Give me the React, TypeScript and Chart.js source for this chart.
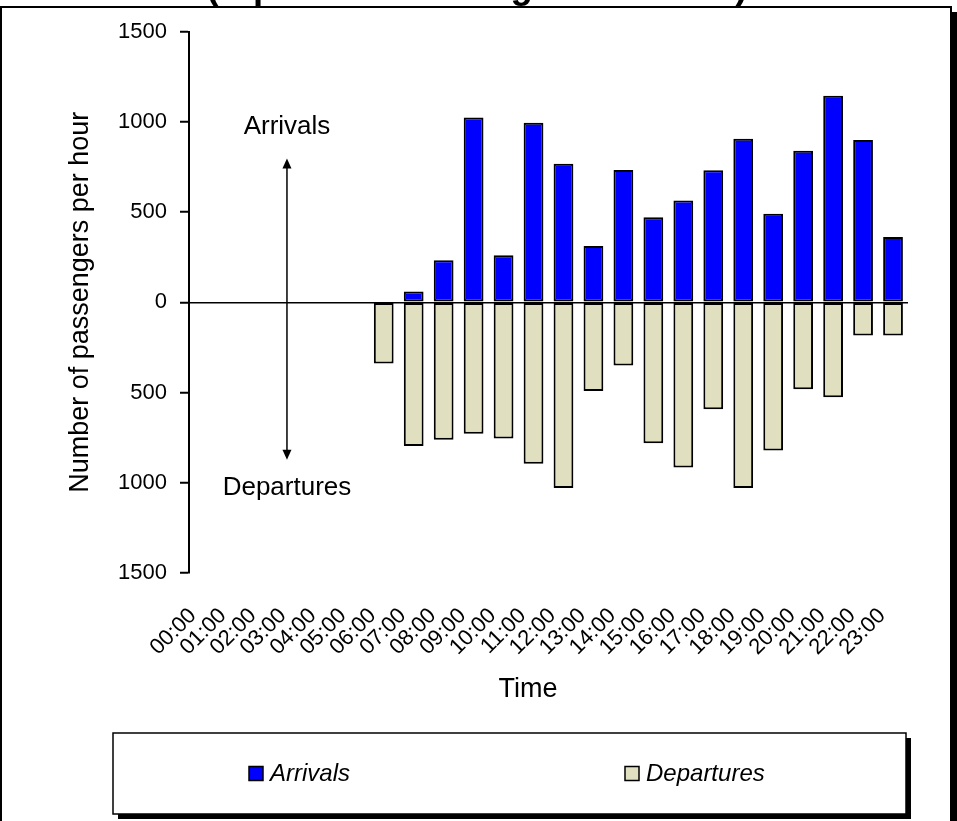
import React, { useEffect, useRef } from 'react';
import { Chart, registerables } from 'chart.js';

Chart.register(...registerables);

const FONT = '"Liberation Sans", Arial, Helvetica, sans-serif';

const TITLE = '(representative flight schedule)';
const HOURS = [
  '00:00', '01:00', '02:00', '03:00', '04:00', '05:00', '06:00', '07:00',
  '08:00', '09:00', '10:00', '11:00', '12:00', '13:00', '14:00', '15:00',
  '16:00', '17:00', '18:00', '19:00', '20:00', '21:00', '22:00', '23:00',
];
const ARRIVALS: (number | null)[] = [
  null, null, null, null, null, null, null, 59,
  232, 1024, 260, 994, 768, 311, 733, 471,
  564, 731, 906, 490, 840, 1144, 899, 361,
];
const DEPARTURES: (number | null)[] = [
  null, null, null, null, null, null, -339, -796,
  -762, -729, -755, -895, -1029, -492, -350, -781,
  -915, -593, -1029, -822, -482, -527, -184, -184,
];
const Y_TICKS = [-1500, -1000, -500, 0, 500, 1000, 1500];
const Y_TITLE = 'Number of passengers per hour';
const X_TITLE = 'Time';
const SERIES_NAMES = ['Arrivals', 'Departures'];
const SERIES_COLORS = ['#0000FF', '#E0E0C0'];

// annotation anchor (in data units: category index / passengers)
const ANNOT_X = 2.77;
const ANNOT_TOP_TEXT = 934;
const ANNOT_ARROW_TOP = 796;
const ANNOT_ARROW_BOTTOM = -873;
const ANNOT_BOTTOM_TEXT = -1066;

const decorPlugin = {
  id: 'decor',
  beforeDraw(chart: any) {
    const ctx = chart.ctx;
    ctx.save();
    ctx.fillStyle = '#ffffff';
    ctx.fillRect(0, 0, chart.width, chart.height);
    // partially visible title (cropped at the top of the picture)
    ctx.fillStyle = '#000';
    ctx.font = `bold 36.5px ${FONT}`;
    ctx.textAlign = 'center';
    ctx.textBaseline = 'alphabetic';
    ctx.fillText(TITLE, 477, -2);
    // outer frame with shadow
    ctx.strokeStyle = '#000';
    ctx.lineWidth = 2;
    ctx.beginPath();
    ctx.moveTo(1, 840);
    ctx.lineTo(1, 7);
    ctx.lineTo(951, 7);
    ctx.lineTo(951, 840);
    ctx.stroke();
    ctx.fillStyle = '#000';
    ctx.fillRect(951, 12, 6, 830);
    ctx.restore();
  },
  afterDatasetsDraw(chart: any) {
    const ctx = chart.ctx;
    const xs = chart.scales.x;
    const ys = chart.scales.y;
    const x = xs.getPixelForValue(ANNOT_X);
    const yTopText = ys.getPixelForValue(ANNOT_TOP_TEXT);
    const yA = ys.getPixelForValue(ANNOT_ARROW_TOP);
    const yB = ys.getPixelForValue(ANNOT_ARROW_BOTTOM);
    const yBottomText = ys.getPixelForValue(ANNOT_BOTTOM_TEXT);
    ctx.save();
    ctx.fillStyle = '#000';
    ctx.strokeStyle = '#000';
    ctx.font = `26px ${FONT}`;
    ctx.textAlign = 'center';
    ctx.textBaseline = 'alphabetic';
    ctx.fillText(SERIES_NAMES[0], x, yTopText);
    ctx.fillText(SERIES_NAMES[1], x, yBottomText);
    const head = 10;
    const hw = 4.5;
    ctx.lineWidth = 1.5;
    ctx.beginPath();
    ctx.moveTo(x, yA + head - 1);
    ctx.lineTo(x, yB - head + 1);
    ctx.stroke();
    ctx.beginPath();
    ctx.moveTo(x, yA);
    ctx.lineTo(x - hw, yA + head);
    ctx.lineTo(x + hw, yA + head);
    ctx.closePath();
    ctx.fill();
    ctx.beginPath();
    ctx.moveTo(x, yB);
    ctx.lineTo(x - hw, yB - head);
    ctx.lineTo(x + hw, yB - head);
    ctx.closePath();
    ctx.fill();
    // x axis title
    ctx.font = `27px ${FONT}`;
    ctx.textAlign = 'center';
    ctx.textBaseline = 'alphabetic';
    ctx.fillText(X_TITLE, 528, 697);
    ctx.restore();
  },
  afterDraw(chart: any) {
    const ctx = chart.ctx;
    const lx = 113, ly = 733, lw = 793, lh = 81;
    ctx.save();
    ctx.fillStyle = '#000';
    ctx.fillRect(lx + 5, ly + 5, lw, lh);
    ctx.fillStyle = '#fff';
    ctx.fillRect(lx, ly, lw, lh);
    ctx.strokeStyle = '#000';
    ctx.lineWidth = 1.5;
    ctx.strokeRect(lx, ly, lw, lh);
    const itemX = [249, 625];
    const cy = ly + lh / 2;
    ctx.font = `italic 24px ${FONT}`;
    ctx.textAlign = 'left';
    ctx.textBaseline = 'middle';
    chart.data.datasets.forEach((ds: any, i: number) => {
      ctx.fillStyle = ds.backgroundColor;
      ctx.fillRect(itemX[i], cy - 7, 14, 14);
      ctx.lineWidth = 1.5;
      ctx.strokeStyle = '#000';
      ctx.strokeRect(itemX[i], cy - 7, 14, 14);
      ctx.fillStyle = '#000';
      ctx.fillText(ds.label, itemX[i] + 21, cy + 1);
    });
    ctx.restore();
  },
};

export default function App() {
  const canvasRef = useRef<HTMLCanvasElement | null>(null);

  useEffect(() => {
    document.body.style.margin = '0';
    const canvas = canvasRef.current;
    if (!canvas) return;
    const chart = new Chart(canvas, {
      type: 'bar',
      data: {
        labels: HOURS,
        datasets: [
          {
            label: SERIES_NAMES[0],
            data: ARRIVALS,
            backgroundColor: SERIES_COLORS[0],
            borderColor: '#000',
            borderWidth: 2,
            borderSkipped: false,
            barPercentage: 0.66,
            categoryPercentage: 1,
          },
          {
            label: SERIES_NAMES[1],
            data: DEPARTURES,
            backgroundColor: SERIES_COLORS[1],
            borderColor: '#000',
            borderWidth: 2,
            borderSkipped: false,
            barPercentage: 0.66,
            categoryPercentage: 1,
          },
        ],
      },
      options: {
        responsive: false,
        animation: false,
        devicePixelRatio: 1,
        layout: { padding: { left: 0, top: 31.5, right: 49, bottom: 101 } },
        plugins: {
          legend: { display: false },
          tooltip: { enabled: false },
          title: { display: false },
        },
        scales: {
          x: {
            stacked: true,
            offset: true,
            grid: { display: false, drawTicks: false },
            border: { display: false },
            ticks: {
              autoSkip: false,
              minRotation: 45,
              maxRotation: 45,
              color: '#000',
              font: { family: FONT, size: 22 },
              padding: 30,
              labelOffset: -11,
            },
            title: { display: false },
            afterFit: (s: any) => {
              s.height = 147;
              s.paddingLeft = 0;
              s.paddingRight = 0;
              s.paddingTop = 0;
              s.paddingBottom = 0;
            },
          },
          y: {
            stacked: true,
            min: -1500,
            max: 1500,
            afterBuildTicks: (s: any) => {
              s.ticks = Y_TICKS.map((v) => ({ value: v }));
            },
            grid: {
              drawOnChartArea: true,
              drawTicks: true,
              tickLength: 9,
              tickWidth: 2,
              tickColor: '#000',
              lineWidth: 1.5,
              color: (c: any) => (c.tick && c.tick.value === 0 ? '#000' : 'rgba(0,0,0,0)'),
            },
            border: { display: true, color: '#000', width: 2 },
            ticks: {
              color: '#000',
              font: { family: FONT, size: 22 },
              padding: 13,
              callback: (v: any) => String(Math.abs(Number(v))),
            },
            title: {
              display: true,
              text: Y_TITLE,
              color: '#000',
              font: { family: FONT, size: 27 },
              padding: { top: 64, bottom: 0 },
            },
            afterFit: (s: any) => {
              s.width = 189;
              s.paddingLeft = 0;
              s.paddingRight = 0;
              s.paddingTop = 0;
              s.paddingBottom = 0;
            },
          },
        },
      },
      plugins: [decorPlugin],
    });
    return () => chart.destroy();
  }, []);

  return (
    <div style={{ position: 'relative', width: 957, height: 821, overflow: 'hidden' }}>
      <canvas ref={canvasRef} width={957} height={821} style={{ display: 'block', width: 957, height: 821 }} />
    </div>
  );
}
